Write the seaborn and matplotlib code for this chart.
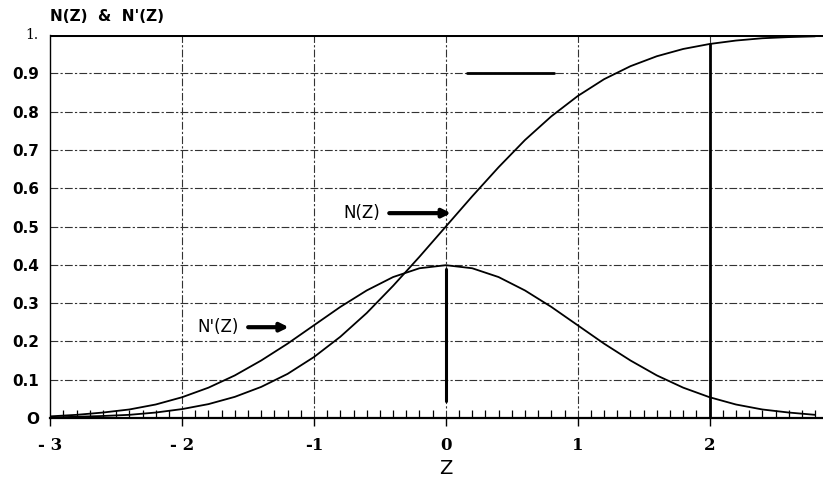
import numpy as np
import pandas as pd
import matplotlib
matplotlib.use("Agg")
import matplotlib.pyplot as plt
import seaborn as sns

# valores
z = [-3.0, -2.8, -2.6, -2.4, -2.2, -2.0, -1.8, -1.6, -1.4, -1.2,
     -1.0, -0.8, -0.6, -0.4, -0.2, 0.0, 0.2, 0.4, 0.6, 0.8,
     1.0, 1.2, 1.4, 1.6, 1.8, 2.0, 2.2, 2.4, 2.6, 2.8]
n_z = [0.001, 0.003, 0.005, 0.008, 0.014, 0.023, 0.036, 0.055, 0.081, 0.115,
       0.159, 0.212, 0.274, 0.345, 0.421, 0.500, 0.579, 0.655, 0.726, 0.788,
       0.841, 0.885, 0.919, 0.945, 0.964, 0.977, 0.986, 0.992, 0.995, 0.997]
n_prima = [0.004, 0.008, 0.014, 0.022, 0.035, 0.054, 0.079, 0.111, 0.150, 0.194,
           0.242, 0.290, 0.333, 0.368, 0.391, 0.399, 0.391, 0.368, 0.333, 0.290,
           0.242, 0.194, 0.150, 0.111, 0.079, 0.054, 0.035, 0.022, 0.014, 0.008]

x_ticks = [-3, -2, -1, 0, 1, 2]
x_labels = ["- 3", "- 2", "-1", "0", "1", "2"]
y_ticks = [0, 0.1, 0.2, 0.3, 0.4, 0.5, 0.6, 0.7, 0.8, 0.9, 1.0]
y_labels = ["O", "0.1", "0.2", "0.3", "0.4", "0.5", "0.6", "0.7", "0.8", "0.9", ""]

df = pd.DataFrame({"Z": z, "N": n_z, "Nprima": n_prima})

sns.set_style("white", {"text.color": "black", "xtick.color": "black",
                        "ytick.color": "black", "axes.labelcolor": "black"})
fig = plt.figure(figsize=(8.23, 4.82), dpi=100)
ax = fig.add_axes([0.061, 0.133, 0.939, 0.794])

sns.lineplot(data=df, x="Z", y="N", color="black", lw=1.3, ax=ax)
sns.lineplot(data=df, x="Z", y="Nprima", color="black", lw=1.3, ax=ax)

ax.set_xlim(-3, 2.86)
ax.set_ylim(0, 1)

# rejilla discontinua
for yv in y_ticks[1:-1]:
    ax.axhline(yv, color="#333333", lw=0.8, ls=(0, (7, 2, 2, 2)), zorder=0)
for xv in x_ticks[1:]:
    ax.axvline(xv, color="#333333", lw=0.8, ls=(0, (7, 2, 2, 2)), zorder=0)

# lineas gruesas
ax.axhline(1.0, color="black", lw=2.2)
ax.plot([0, 0], [0.045, 0.39], color="black", lw=2.2)
ax.plot([2, 2], [0, 0.977], color="black", lw=2.0)
ax.plot([0.16, 0.82], [0.9, 0.9], color="black", lw=2.0)

# spines
for s in ["top", "right"]:
    ax.spines[s].set_visible(False)
ax.spines["left"].set_linewidth(1.0)
ax.spines["bottom"].set_linewidth(1.6)
ax.spines["left"].set_color("black")
ax.spines["bottom"].set_color("black")

ax.set_xticks(x_ticks)
ax.set_xticklabels(x_labels, fontfamily="DejaVu Serif", fontweight="bold", fontsize=12)
ax.set_xticks(np.arange(-3, 2.86, 0.1), minor=True)
ax.tick_params(axis="x", which="both", bottom=True, color="black")
ax.tick_params(axis="x", which="major", direction="out", length=6, width=1.0, pad=8)
ax.tick_params(axis="x", which="minor", direction="in", length=6, width=0.9)

ax.set_yticks(y_ticks)
ax.set_yticklabels(y_labels, fontfamily="DejaVu Sans", fontweight="bold", fontsize=11)
ax.tick_params(axis="y", which="major", length=0, pad=8)
ax.text(-3.09, 1.0, "1.", ha="right", va="center", fontfamily="DejaVu Serif", fontsize=10)

ax.set_xlabel("Z", fontsize=14, fontfamily="DejaVu Sans", labelpad=2)
ax.set_ylabel("")
ax.xaxis.set_label_coords((0 + 3) / 5.86, -0.108)

fig.text(0.061, 0.965, "N(Z)  &  N'(Z)", fontfamily="DejaVu Sans", fontweight="bold",
         fontsize=11, ha="left", va="center")

# flechas
ax.annotate("", xy=(0.06, 0.535), xytext=(-0.45, 0.535),
            arrowprops=dict(arrowstyle="-|>", color="black", lw=3, mutation_scale=12))
ax.text(-0.5, 0.535, "N(Z)", ha="right", va="center", fontsize=12)
ax.annotate("", xy=(-1.17, 0.237), xytext=(-1.52, 0.237),
            arrowprops=dict(arrowstyle="-|>", color="black", lw=3, mutation_scale=12))
ax.text(-1.57, 0.237, "N'(Z)", ha="right", va="center", fontsize=12)

plt.savefig("out.png", dpi=100)
plt.close()
